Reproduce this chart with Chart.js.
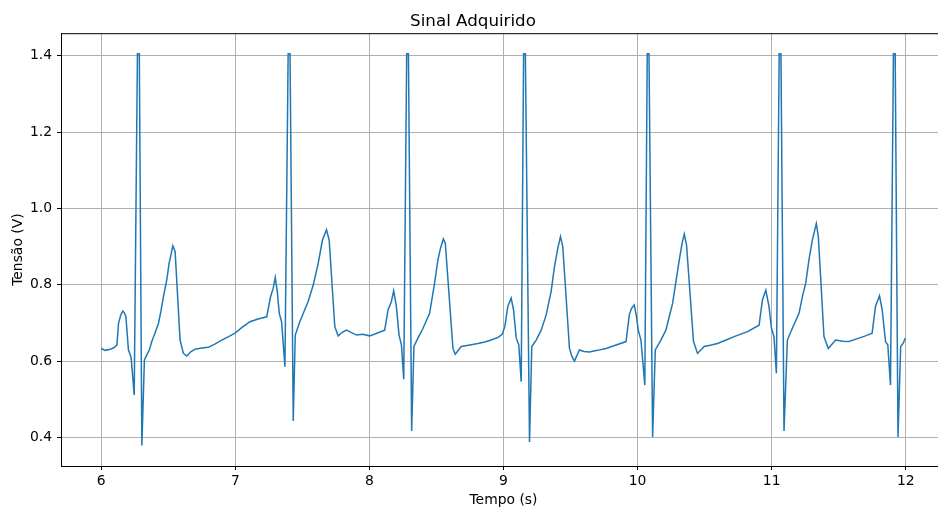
<!DOCTYPE html>
<html>
<head>
<meta charset="utf-8">
<title>Sinal Adquirido</title>
<script src="https://cdn.jsdelivr.net/npm/chart.js@4.4.1/dist/chart.umd.min.js"></script>
<style>
  html, body { margin: 0; padding: 0; overflow: hidden; background: #fff; }
  #wrap { width: 1007px; height: 511px; }
</style>
</head>
<body>
<div id="wrap"><canvas id="chart" width="1007" height="511"></canvas></div>
<script>
// time (s) and voltage (V)
const timeValues = [
  6.000, 6.030, 6.060, 6.090, 6.117, 6.129, 6.145, 6.161, 6.172, 6.184, 6.203, 6.215, 6.223, 6.246,
  6.270, 6.284, 6.303,
  6.322, 6.340, 6.360, 6.377, 6.400, 6.427, 6.445, 6.464, 6.489, 6.506, 6.520, 6.534, 6.551,
  6.588, 6.613, 6.638, 6.670, 6.700, 6.750, 6.799, 6.850, 6.899, 6.950, 6.998,
  7.050, 7.109, 7.170, 7.234, 7.263, 7.283, 7.298, 7.313, 7.328, 7.345, 7.370,
  7.394, 7.408, 7.432,
  7.447, 7.481, 7.510, 7.543, 7.581, 7.618, 7.650, 7.680, 7.700, 7.742, 7.767, 7.800, 7.829,
  7.870, 7.904, 7.950, 8.002,
  8.050, 8.114, 8.139, 8.164, 8.181, 8.201, 8.221, 8.239, 8.256,
  8.278, 8.291, 8.315,
  8.332, 8.362, 8.400, 8.449, 8.486, 8.511, 8.530, 8.551, 8.566, 8.623, 8.640, 8.685, 8.750,
  8.809, 8.860, 8.908, 8.960, 8.990,
  9.010, 9.032, 9.057, 9.075, 9.095, 9.114, 9.132,
  9.150, 9.163, 9.194,
  9.211, 9.244, 9.281, 9.318, 9.355, 9.380, 9.405, 9.425, 9.442, 9.492, 9.510, 9.529, 9.566,
  9.600, 9.640, 9.700, 9.765, 9.840, 9.914,
  9.938, 9.955, 9.975, 9.990, 10.005, 10.025, 10.054,
  10.072, 10.085, 10.112,
  10.132, 10.174, 10.211, 10.236, 10.261, 10.286, 10.311, 10.330, 10.348, 10.365, 10.417, 10.447,
  10.497, 10.550, 10.596, 10.660, 10.720, 10.820, 10.906,
  10.931, 10.956, 10.980, 10.998, 11.017, 11.035,
  11.056, 11.069, 11.092,
  11.117, 11.154, 11.204, 11.229, 11.254, 11.278, 11.303, 11.333, 11.348, 11.390, 11.422, 11.477,
  11.530, 11.576, 11.650, 11.700, 11.749,
  11.774, 11.804, 11.824, 11.849, 11.866, 11.886,
  11.908, 11.921, 11.942,
  11.962, 11.980, 11.997,
];

const voltageValues = [
  0.633, 0.628, 0.630, 0.634, 0.642, 0.699, 0.720, 0.731, 0.727, 0.716, 0.629, 0.618, 0.608, 0.511,
  1.405, 1.405, 0.379,
  0.603, 0.616, 0.630, 0.651, 0.672, 0.699, 0.730, 0.769, 0.813, 0.856, 0.878, 0.902, 0.887,
  0.655, 0.620, 0.613, 0.625, 0.631, 0.634, 0.636, 0.645, 0.655, 0.664, 0.673,
  0.688, 0.703, 0.710, 0.716, 0.769, 0.791, 0.819, 0.782, 0.725, 0.703, 0.585,
  1.405, 1.405, 0.443,
  0.668, 0.703, 0.728, 0.756, 0.799, 0.856, 0.917, 0.944, 0.917, 0.690, 0.666, 0.676, 0.681,
  0.674, 0.668, 0.670, 0.666,
  0.672, 0.681, 0.734, 0.756, 0.784, 0.743, 0.668, 0.642, 0.552,
  1.405, 1.405, 0.417,
  0.638, 0.660, 0.686, 0.725, 0.804, 0.865, 0.895, 0.920, 0.909, 0.633, 0.618, 0.638, 0.642,
  0.646, 0.650, 0.655, 0.662, 0.670,
  0.690, 0.743, 0.765, 0.734, 0.660, 0.642, 0.546,
  1.405, 1.405, 0.388,
  0.638, 0.655, 0.681, 0.721, 0.782, 0.847, 0.896, 0.926, 0.900, 0.633, 0.612, 0.600, 0.629,
  0.625, 0.624, 0.628, 0.633, 0.642, 0.651,
  0.721, 0.738, 0.747, 0.720, 0.681, 0.655, 0.537,
  1.405, 1.405, 0.401,
  0.629, 0.655, 0.681, 0.716, 0.751, 0.808, 0.865, 0.905, 0.933, 0.904, 0.651, 0.620,
  0.638, 0.642, 0.646, 0.655, 0.664, 0.677, 0.694,
  0.760, 0.786, 0.743, 0.686, 0.664, 0.568,
  1.405, 1.405, 0.417,
  0.655, 0.686, 0.725, 0.769, 0.804, 0.865, 0.917, 0.960, 0.926, 0.664, 0.633, 0.655,
  0.652, 0.651, 0.660, 0.666, 0.673,
  0.743, 0.771, 0.734, 0.651, 0.642, 0.537,
  1.405, 1.405, 0.401,
  0.638, 0.646, 0.660,
];

const xTicks = [6, 7, 8, 9, 10, 11, 12];
const yTicks = [0.4, 0.6, 0.8, 1.0, 1.2, 1.4];

const FONT = 'DejaVu Sans';
Chart.defaults.font.family = FONT;
Chart.defaults.color = '#000';

const frame = {
  id: 'frame',
  afterDraw(chart) {
    const {ctx, chartArea: {left, right, top, bottom}} = chart;
    ctx.save();
    ctx.strokeStyle = '#000';
    ctx.lineWidth = 1;
    ctx.beginPath();
    ctx.moveTo(left, top + 0.5);
    ctx.lineTo(right, top + 0.5);
    ctx.moveTo(right - 0.5, top);
    ctx.lineTo(right - 0.5, bottom);
    ctx.stroke();
    ctx.restore();
  },
};

const context = document.getElementById('chart').getContext('2d');
new Chart(context, {
  type: 'line',
  data: {
    datasets: [{
      data: timeValues.map((t, i) => ({x: t, y: voltageValues[i]})),
      borderColor: '#1f77b4',
      borderWidth: 1.5,
      pointRadius: 0,
      tension: 0,
      fill: false,
    }],
  },
  options: {
    responsive: false,
    devicePixelRatio: 1,
    animation: false,
    events: [],
    layout: {padding: {left: 0, right: 61, top: 0, bottom: 0}},
    plugins: {
      legend: {display: false},
      tooltip: {enabled: false},
      title: {
        display: true,
        text: 'Sinal Adquirido',
        color: '#000',
        font: {family: FONT, size: 16.7, weight: 'normal', lineHeight: 1},
        padding: {top: 13, bottom: 3.5},
      },
    },
    scales: {
      x: {
        type: 'linear',
        min: 5.7,
        max: 12.3,
        afterBuildTicks: scale => { scale.ticks = xTicks.map(value => ({value})); },
        afterFit: scale => { scale.height = 45; },
        ticks: {
          font: {size: 13.9},
          color: '#000',
          padding: 3,
          maxRotation: 0,
          autoSkip: false,
          callback: value => String(value),
        },
        grid: {color: '#b0b0b0', lineWidth: 1, tickColor: '#000', tickLength: 4},
        border: {color: '#000', width: 1},
        title: {
          display: true,
          text: 'Tempo (s)',
          color: '#000',
          font: {size: 13.9},
          padding: {top: 0, bottom: 2},
        },
      },
      y: {
        type: 'linear',
        min: 0.325,
        max: 1.459,
        afterBuildTicks: scale => { scale.ticks = yTicks.map(value => ({value})); },
        afterFit: scale => { scale.width = 61; },
        ticks: {
          font: {size: 13.9},
          color: '#000',
          padding: 5,
          autoSkip: false,
          callback: value => value.toFixed(1),
        },
        grid: {color: '#b0b0b0', lineWidth: 1, tickColor: '#000', tickLength: 4},
        border: {color: '#000', width: 1},
        title: {
          display: true,
          text: 'Tensão (V)',
          color: '#000',
          font: {size: 13.9},
          padding: {top: 10, bottom: 0},
        },
      },
    },
  },
  plugins: [frame],
});
</script>
</body>
</html>
